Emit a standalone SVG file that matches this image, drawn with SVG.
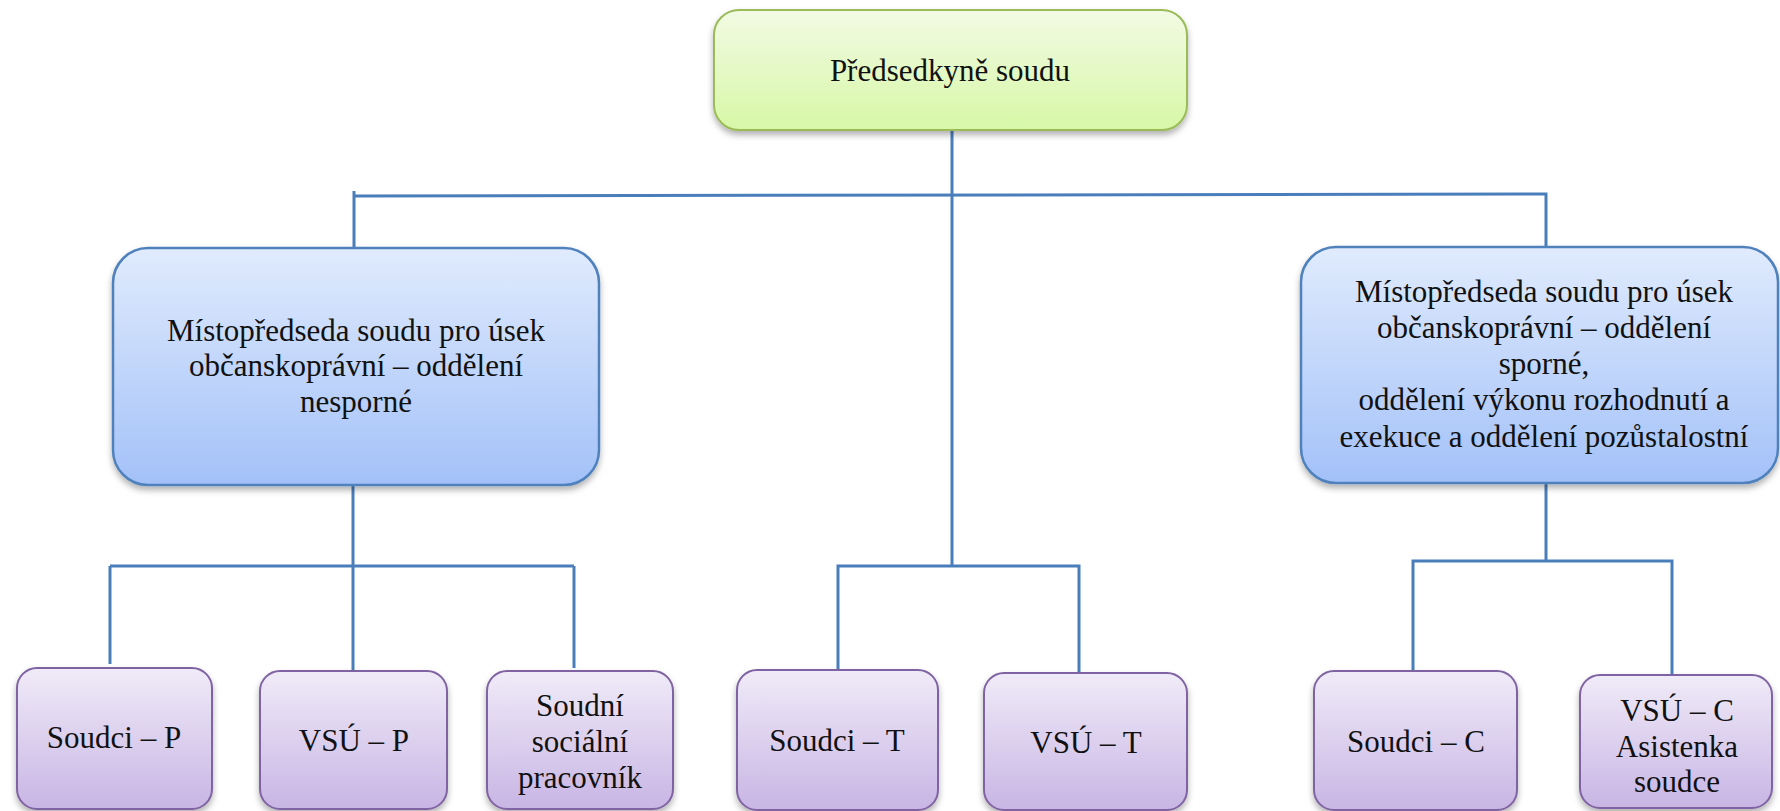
<svg xmlns="http://www.w3.org/2000/svg" width="1780" height="811" viewBox="0 0 1780 811">
<defs>
<linearGradient id="gGreen" x1="0" y1="0" x2="0" y2="1"><stop offset="0" stop-color="#f2fbe4"/><stop offset="1" stop-color="#d7f7a6"/></linearGradient>
<linearGradient id="gBlue" x1="0" y1="0" x2="0" y2="1"><stop offset="0" stop-color="#e0ebfd"/><stop offset="1" stop-color="#a3c1f8"/></linearGradient>
<linearGradient id="gPurple" x1="0" y1="0" x2="0" y2="1"><stop offset="0" stop-color="#f0ebf8"/><stop offset="1" stop-color="#c8b5e4"/></linearGradient>
<filter id="sh" x="-10%" y="-10%" width="120%" height="130%"><feDropShadow dx="0" dy="4" stdDeviation="3" flood-color="#000" flood-opacity="0.3"/></filter>
</defs>
<style>
.t{font-family:"Liberation Serif","Times New Roman",serif;font-size:31px;fill:#111;text-anchor:middle}
.green{fill:url(#gGreen);stroke:#9bbb59;stroke-width:2}
.blue{fill:url(#gBlue);stroke:#4f81bd;stroke-width:2.5}
.purple{fill:url(#gPurple);stroke:#8064a2;stroke-width:2}
.c{fill:none;stroke:#4a7ebb;stroke-width:3}
</style>
<rect width="1780" height="811" fill="#fff"/>
<g id="connectors">
<path class="c" d="M952 130 V566"/>
<path class="c" d="M354 191 V248 M354 196 L1546 194 V247"/>
<path class="c" d="M353 485 V670 M110 566 H574 M110 566 V664 M574 566 V668"/>
<path class="c" d="M838 670 V566 H1079 V673"/>
<path class="c" d="M1546 483 V561 M1413 670 V561 H1672 V675"/>
</g>
<g id="n-predsedkyne">
<rect class="green" x="714" y="10" width="473" height="120" rx="25" filter="url(#sh)"/>
<text class="t" x="950" y="81">Předsedkyně soudu</text>
</g>
<g id="n-misto-nesporne">
<rect class="blue" x="113" y="248" width="486" height="237" rx="35" filter="url(#sh)"/>
<text class="t" x="356" y="341">Místopředseda soudu pro úsek</text>
<text class="t" x="356" y="376">občanskoprávní – oddělení</text>
<text class="t" x="356" y="412">nesporné</text>
</g>
<g id="n-misto-sporne">
<rect class="blue" x="1301" y="247" width="477" height="236" rx="35" filter="url(#sh)"/>
<text class="t" x="1544" y="302">Místopředseda soudu pro úsek</text>
<text class="t" x="1544" y="338">občanskoprávní – oddělení</text>
<text class="t" x="1544" y="374">sporné,</text>
<text class="t" x="1544" y="410">oddělení výkonu rozhodnutí a</text>
<text class="t" x="1544" y="447">exekuce a oddělení pozůstalostní</text>
</g>
<g id="n-soudci-p">
<rect class="purple" x="17" y="668" width="195" height="141" rx="20" filter="url(#sh)"/>
<text class="t" x="114" y="748">Soudci – P</text>
</g>
<g id="n-vsu-p">
<rect class="purple" x="260" y="671" width="187" height="138" rx="20" filter="url(#sh)"/>
<text class="t" x="354" y="751">VSÚ – P</text>
</g>
<g id="n-socialni">
<rect class="purple" x="487" y="671" width="186" height="138" rx="20" filter="url(#sh)"/>
<text class="t" x="580" y="716">Soudní</text>
<text class="t" x="580" y="752">sociální</text>
<text class="t" x="580" y="788">pracovník</text>
</g>
<g id="n-soudci-t">
<rect class="purple" x="737" y="670" width="201" height="140" rx="20" filter="url(#sh)"/>
<text class="t" x="837" y="751">Soudci – T</text>
</g>
<g id="n-vsu-t">
<rect class="purple" x="984" y="673" width="203" height="137" rx="20" filter="url(#sh)"/>
<text class="t" x="1086" y="753">VSÚ – T</text>
</g>
<g id="n-soudci-c">
<rect class="purple" x="1314" y="671" width="203" height="139" rx="20" filter="url(#sh)"/>
<text class="t" x="1416" y="752">Soudci – C</text>
</g>
<g id="n-vsu-c">
<rect class="purple" x="1580" y="675" width="192" height="133" rx="20" filter="url(#sh)"/>
<text class="t" x="1677" y="721">VSÚ – C</text>
<text class="t" x="1677" y="757">Asistenka</text>
<text class="t" x="1677" y="792">soudce</text>
</g>
</svg>
